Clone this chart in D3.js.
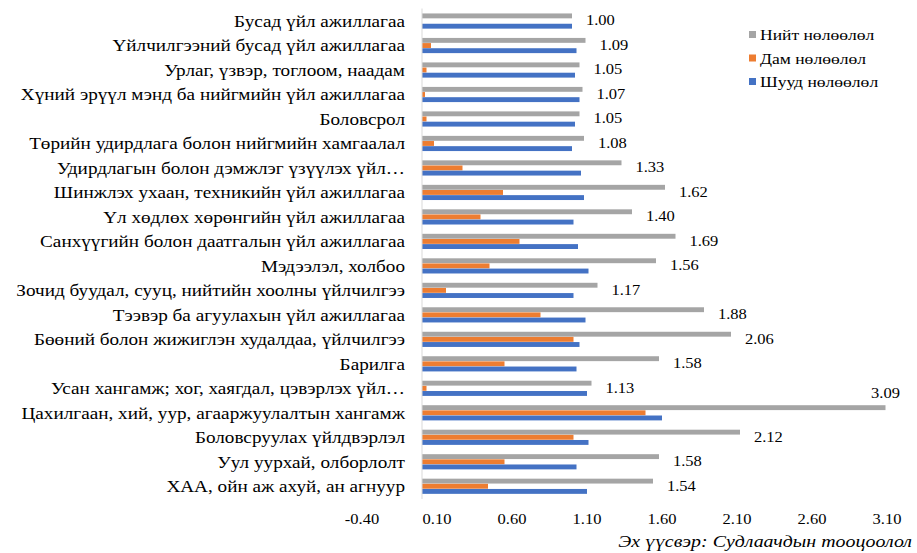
<!DOCTYPE html>
<html>
<head>
<meta charset="utf-8">
<script src="https://cdn.jsdelivr.net/npm/d3@7"></script>
<style>
  body { margin: 0; background: #fff; }
  svg text { font-family: "Liberation Serif", "Times New Roman", serif; fill: #000; }
</style>
</head>
<body>
<div id="chart"></div>
<script>
const width = 917,
      height = 553;

// categories, top to bottom
const categories = [
  "Бусад үйл ажиллагаа",
  "Үйлчилгээний бусад үйл ажиллагаа",
  "Урлаг, үзвэр, тоглоом, наадам",
  "Хүний эрүүл мэнд ба нийгмийн үйл ажиллагаа",
  "Боловсрол",
  "Төрийн удирдлага болон нийгмийн хамгаалал",
  "Удирдлагын болон дэмжлэг үзүүлэх үйл…",
  "Шинжлэх ухаан,  техникийн үйл ажиллагаа",
  "Үл хөдлөх хөрөнгийн үйл ажиллагаа",
  "Санхүүгийн болон даатгалын үйл ажиллагаа",
  "Мэдээлэл, холбоо",
  "Зочид буудал,  сууц,  нийтийн хоолны үйлчилгээ",
  "Тээвэр ба агуулахын  үйл ажиллагаа",
  "Бөөний болон жижиглэн худалдаа,  үйлчилгээ",
  "Барилга",
  "Усан хангамж; хог, хаягдал, цэвэрлэх үйл…",
  "Цахилгаан, хий, уур, агааржуулалтын  хангамж",
  "Боловсруулах  үйлдвэрлэл",
  "Уул уурхай,  олборлолт",
  "ХАА,  ойн аж ахуй,  ан агнуур"
];

const totalEffect    = [1.00, 1.09, 1.05, 1.07, 1.05, 1.08, 1.33, 1.62, 1.40, 1.69,
                        1.56, 1.17, 1.88, 2.06, 1.58, 1.13, 3.09, 2.12, 1.58, 1.54];
const indirectEffect = [0.00, 0.06, 0.03, 0.02, 0.03, 0.08, 0.27, 0.54, 0.39, 0.65,
                        0.45, 0.16, 0.79, 1.01, 0.55, 0.03, 1.49, 1.01, 0.55, 0.44];
const directEffect   = [1.00, 1.03, 1.02, 1.05, 1.02, 1.00, 1.06, 1.08, 1.01, 1.04,
                        1.11, 1.01, 1.09, 1.05, 1.03, 1.10, 1.60, 1.11, 1.03, 1.10];

const seriesNames = ["Нийт нөлөөлөл", "Дам нөлөөлөл", "Шууд нөлөөлөл"];
const seriesColors = ["#a5a5a5", "#ed7d31", "#4472c4"];
const xTicks = [-0.40, 0.10, 0.60, 1.10, 1.60, 2.10, 2.60, 3.10];

const rows = categories.map((c, i) => ({
  name: c,
  values: [totalEffect[i], indirectEffect[i], directEffect[i]]
}));

const x = d3.scaleLinear()
    .domain([-0.4, 3.1])
    .range([362, 887]);

const y = d3.scaleBand()
    .domain(categories)
    .range([8.8, 498.5])
    .paddingInner(0.38)
    .paddingOuter(0.19);

const ySub = d3.scaleBand()
    .domain([0, 1, 2])
    .range([0, y.bandwidth()])
    .paddingInner(0.05);

const svg = d3.select("#chart")
  .append("svg")
    .attr("width", width)
    .attr("height", height);

// the source picture is stretched a bit sideways, so text gets a horizontal scale
function place(sel, fx, fy, sx) {
  sel.attr("transform", (d, i) => `translate(${fx(d, i)},${fy(d, i)}) scale(${sx},1)`);
}

// bars
const rowG = svg.append("g")
  .selectAll("g")
  .data(rows)
  .enter()
  .append("g")
    .attr("transform", d => `translate(0,${y(d.name)})`);

rowG.selectAll("rect")
  .data(d => d.values)
  .enter()
  .append("rect")
    .attr("x", d => x(Math.min(0, d)))
    .attr("y", (d, i) => ySub(i))
    .attr("width", d => Math.abs(x(d) - x(0)))
    .attr("height", ySub.bandwidth())
    .attr("fill", (d, i) => seriesColors[i]);

// category axis line
svg.append("line")
    .attr("x1", x(0)).attr("x2", x(0))
    .attr("y1", 8.5).attr("y2", 499)
    .attr("stroke", "#d9d9d9")
    .attr("stroke-width", 1);

// category labels
svg.append("g")
  .selectAll("text")
  .data(categories)
  .enter()
  .append("text")
    .attr("dy", "0.35em")
    .attr("text-anchor", "end")
    .style("font-size", "17px")
    .text(d => d)
    .call(place, () => x(0) - 17, d => y(d) + y.bandwidth() / 2, 1.13);

// value labels for total
const outside = d => x(d.values[0]) + 50 > width;
svg.append("g")
  .selectAll("text")
  .data(rows)
  .enter()
  .append("text")
    .attr("dy", "0.35em")
    .attr("text-anchor", d => outside(d) ? "middle" : "start")
    .style("font-size", "15px")
    .text(d => d.values[0].toFixed(2))
    .call(place,
      d => outside(d) ? x(d.values[0]) : x(d.values[0]) + 14,
      d => outside(d) ? y(d.name) - 12 : y(d.name) + y.bandwidth() / 2 - 1,
      1.1);

// x tick labels
svg.append("g")
  .selectAll("text")
  .data(xTicks)
  .enter()
  .append("text")
    .attr("dy", "0.35em")
    .attr("text-anchor", "middle")
    .style("font-size", "15px")
    .text(d => d.toFixed(2))
    .call(place, d => x(d), () => 519, 1.1);

// legend
const legend = svg.append("g")
  .selectAll("g")
  .data(seriesNames)
  .enter()
  .append("g")
    .attr("transform", (d, i) => `translate(749,${35 + i * 23.5})`);

legend.append("rect")
    .attr("x", 0)
    .attr("y", -4)
    .attr("width", 7)
    .attr("height", 7)
    .attr("fill", (d, i) => seriesColors[i]);

legend.append("text")
    .attr("dy", "0.35em")
    .style("font-size", "15px")
    .text(d => d)
    .call(place, () => 11, () => 0, 1.17);

// source note
svg.append("text")
    .attr("dy", "0.35em")
    .attr("text-anchor", "end")
    .style("font-size", "17px")
    .style("font-style", "italic")
    .text("Эх үүсвэр: Судлаачдын тооцоолол")
    .call(place, () => 912, () => 541, 1.17);
</script>
</body>
</html>
